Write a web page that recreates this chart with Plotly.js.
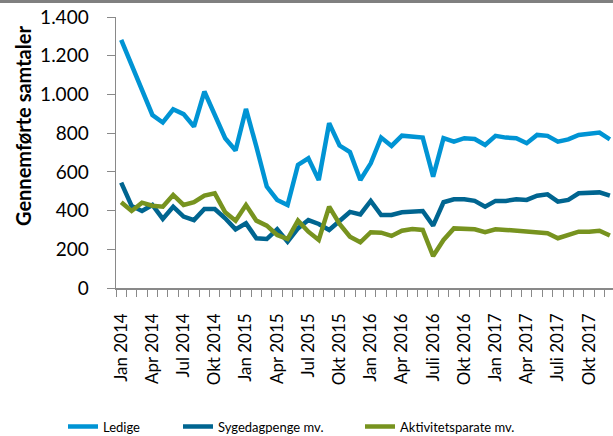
<!DOCTYPE html>
<html>
<head>
<meta charset="utf-8">
<script src="https://cdn.plot.ly/plotly-3.0.1.min.js"></script>
<style>
html,body{margin:0;padding:0;background:#fff;}
#chart{width:613px;height:436px;}
</style>
</head>
<body>
<div id="chart"></div>
<script>
var months = [
  "Jan 2014","Feb 2014","Mar 2014","Apr 2014","Maj 2014","Jun 2014","Jul 2014","Aug 2014","Sep 2014","Okt 2014","Nov 2014","Dec 2014",
  "Jan 2015","Feb 2015","Mar 2015","Apr 2015","Maj 2015","Jun 2015","Jul 2015","Aug 2015","Sep 2015","Okt 2015","Nov 2015","Dec 2015",
  "Jan 2016","Feb 2016","Mar 2016","Apr 2016","Maj 2016","Jun 2016","Juli 2016","Aug 2016","Sep 2016","Okt 2016","Nov 2016","Dec 2016",
  "Jan 2017","Feb 2017","Mar 2017","Apr 2017","Maj 2017","Jun 2017","Juli 2017","Aug 2017","Sep 2017","Okt 2017","Nov 2017","Dec 2017"
];
var tickLabels = ["Jan 2014","Apr 2014","Jul 2014","Okt 2014","Jan 2015","Apr 2015","Jul 2015","Okt 2015",
                  "Jan 2016","Apr 2016","Juli 2016","Okt 2016","Jan 2017","Apr 2017","Juli 2017","Okt 2017"];

var ledige = [1282,1150,1015,894,855,923,898,834,1015,894,774,710,
              925,730,524,455,429,636,670,558,851,736,702,558,
              644,777,734,787,782,777,575,774,756,774,770,739,
              786,777,774,748,791,786,756,768,791,799,803,768];
var sygedagpenge = [544,424,398,429,357,420,369,351,408,408,360,303,
                    334,257,253,303,239,308,351,331,300,343,393,380,
                    450,377,377,391,395,398,322,443,458,458,450,420,
                    450,450,458,455,477,484,446,455,489,489,494,477];
var aktivitetsparate = [443,398,441,425,420,481,429,443,477,489,391,348,
                        429,348,322,274,253,348,291,248,420,331,265,236,
                        288,286,269,296,305,300,165,248,308,303,303,288,
                        303,300,296,288,288,283,257,277,291,291,296,271];

var seriesNames = ["Ledige","Sygedagpenge mv.","Aktivitetsparate mv."];
var seriesColors = ["#0094D4","#006590","#77931F"];
var seriesData = [ledige, sygedagpenge, aktivitetsparate];
var legendIds = ["legend","legend2","legend3"];

var xIdx = months.map(function(_, i){ return i; });
var tickVals = tickLabels.map(function(l){ return months.indexOf(l); });
var boundaries = months.map(function(_, i){ return i - 0.5; }).concat([months.length - 0.5]);

var traces = seriesData.map(function(d, k){
  return {
    x: xIdx, y: d, type: "scatter", mode: "lines",
    name: seriesNames[k],
    line: {color: seriesColors[k], width: 4.5, shape: "linear"},
    legend: legendIds[k],
    hoverinfo: "skip"
  };
});

var FONT = "Lato, 'Open Sans', sans-serif";
function legendAt(xpx){
  return {
    orientation: "h", xref: "container", yref: "container",
    x: xpx / 613, xanchor: "left", y: 1 - 426.5 / 436, yanchor: "middle",
    font: {family: FONT, size: 13, color: "#000"},
    bgcolor: "rgba(0,0,0,0)", borderwidth: 0, itemwidth: 30
  };
}

var PLOT_L = 116, PLOT_W = 497, PLOT_T = 17, PLOT_H = 271;

var layout = {
  width: 613, height: 436,
  margin: {l: PLOT_L, r: 0, t: PLOT_T, b: 148, pad: 0},
  paper_bgcolor: "#fff", plot_bgcolor: "#fff",
  separators: ",.",
  showlegend: true,
  font: {family: FONT, color: "#000"},
  xaxis: {
    range: [-0.5, 47.3],
    tickmode: "array", tickvals: tickVals, ticktext: tickLabels,
    tickangle: -90, ticks: "outside", ticklen: 17, tickcolor: "rgba(0,0,0,0)",
    tickfont: {family: FONT, size: 17, color: "#000"},
    showline: true, linecolor: "#898989", linewidth: 1.5,
    showgrid: false, zeroline: false,
    minor: {tickmode: "array", tickvals: boundaries, ticks: "outside", ticklen: 7, tickwidth: 1, tickcolor: "#898989", showgrid: false}
  },
  yaxis: {
    range: [0, 1400], tickmode: "linear", tick0: 0, dtick: 200,
    tickformat: ",d",
    ticks: "outside", ticklen: 8, tickwidth: 1, tickcolor: "#898989",
    ticklabelstandoff: 14,
    tickfont: {family: FONT, size: 19, color: "#000"},
    showline: true, linecolor: "#898989", linewidth: 1.5,
    showgrid: false, zeroline: false
  },
  legend: legendAt(63),
  legend2: legendAt(178),
  legend3: legendAt(360),
  annotations: [{
    text: "Gennemførte samtaler", textangle: -90,
    xref: "paper", yref: "paper",
    x: (23 - PLOT_L) / PLOT_W, y: (PLOT_T + PLOT_H - 126) / PLOT_H,
    xanchor: "center", yanchor: "middle",
    showarrow: false,
    font: {family: FONT, size: 20, color: "#000", weight: "bold"}
  }],
  shapes: [{
    type: "rect", xref: "paper", yref: "paper",
    x0: -0.25, x1: 1.01, y0: 1 + 14 / PLOT_H, y1: 1 + 18 / PLOT_H,
    fillcolor: "#808080", line: {width: 0}
  }]
};

Plotly.newPlot("chart", traces, layout, {displayModeBar: false, staticPlot: true});
</script>
</body>
</html>
